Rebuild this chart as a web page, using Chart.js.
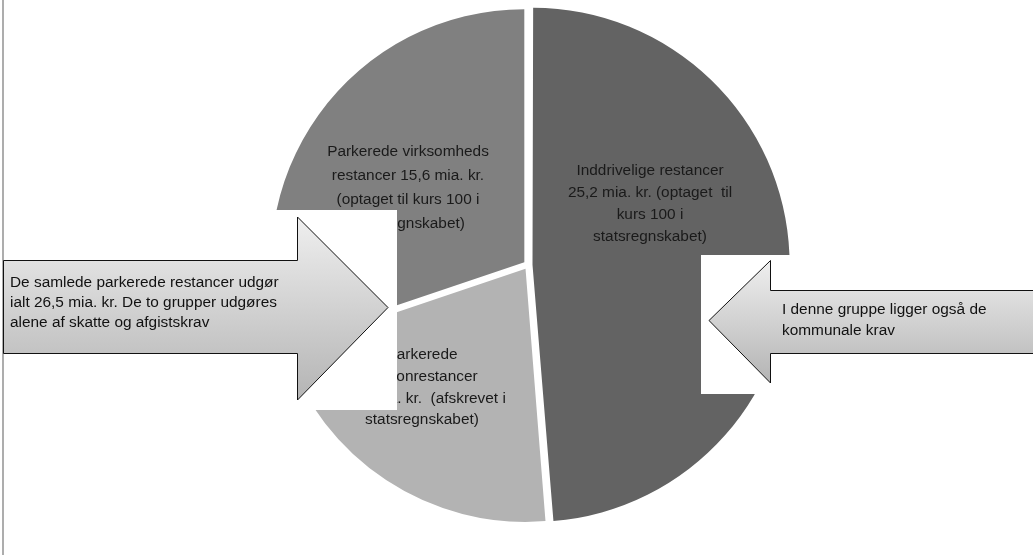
<!DOCTYPE html>
<html>
<head>
<meta charset="utf-8">
<script src="https://cdn.jsdelivr.net/npm/chart.js@4.4.1/dist/chart.umd.min.js"></script>
<style>
  html, body { margin: 0; padding: 0; background: #fff; overflow: hidden; }
  #wrap { position: absolute; left: 0; top: 0; width: 1033px; height: 555px; }
</style>
</head>
<body>
<div id="wrap"><canvas id="myChart"></canvas></div>
<script>
// data (mia. kr.)
const categories = ['Inddrivelige restancer', 'Parkerede personrestancer', 'Parkerede virksomheds restancer'];
const values = [25.2, 10.9, 15.6];
const colors = ['#636363', '#b3b3b3', '#808080'];

// text written inside each slice
const sliceText = [
  ['Inddrivelige restancer', '25,2 mia. kr. (optaget  til', 'kurs 100 i', 'statsregnskabet)'],
  ['Parkerede', 'personrestancer', '10,9 mia. kr.  (afskrevet i', 'statsregnskabet)'],
  ['Parkerede virksomheds', 'restancer 15,6 mia. kr.', '(optaget til kurs 100 i', 'statsregnskabet)']
];
const leftArrowText = ['De samlede parkerede restancer udgør', 'ialt 26,5 mia. kr. De to grupper udgøres', 'alene af skatte og afgistskrav'];
const rightArrowText = ['I denne gruppe ligger også de', 'kommunale krav'];

// a narrow sans looks closest; fall back to Liberation Sans if it is missing
function pickFont() {
  const c = document.createElement('canvas').getContext('2d');
  const s = 'Parkerede virksomheds';
  c.font = '100px monospace';
  const mono = c.measureText(s).width;
  c.font = '100px "Liberation Sans Narrow", monospace';
  const fam = c.measureText(s).width !== mono ? '"Liberation Sans Narrow"' : '"Liberation Sans"';
  c.font = '100px ' + fam + ', Arial, sans-serif';
  const size = 162 / c.measureText(s).width * 100;   // "Parkerede virksomheds" is ~162px wide
  return size.toFixed(1) + 'px ' + fam + ', Arial, sans-serif';
}
const FONT = pickFont();

const annotations = {
  id: 'annotations',
  afterDraw(chart) {
    const ctx = chart.ctx;
    const arcs = chart.getDatasetMeta(0).data;
    const cx = arcs[0].x, cy = arcs[0].y;

    // slice labels, placed relative to the pie centre
    const spots = [[122, -94, 22], [-106, 90, 21.7], [-120, -113, 24]];
    ctx.save();
    ctx.font = FONT;
    ctx.fillStyle = '#1a1a1a';
    ctx.textAlign = 'center';
    ctx.textBaseline = 'middle';
    sliceText.forEach((lines, i) => {
      const [dx, dy, lh] = spots[i];
      lines.forEach((t, j) => ctx.fillText(t, cx + dx, cy + dy + j * lh));
    });
    ctx.restore();

    // left border line
    ctx.save();
    ctx.fillStyle = '#adadad';
    ctx.fillRect(2, 0, 2, 555);

    // white boxes behind the arrows
    ctx.fillStyle = '#ffffff';
    ctx.fillRect(4, 210, 393, 200);
    ctx.fillRect(701, 255, 340, 139);

    const arrow = (pts, y0, y1) => {
      const g = ctx.createLinearGradient(0, y0, 0, y1);
      g.addColorStop(0, '#efefef');
      g.addColorStop(1, '#b4b4b4');
      ctx.beginPath();
      pts.forEach((p, k) => k ? ctx.lineTo(p[0], p[1]) : ctx.moveTo(p[0], p[1]));
      ctx.closePath();
      ctx.fillStyle = g;
      ctx.fill();
      ctx.lineWidth = 1;
      ctx.strokeStyle = '#111';
      ctx.stroke();
    };
    // left arrow, pointing right
    arrow([[3.5, 260.5], [297.5, 260.5], [297.5, 217], [388, 307.5], [297.5, 400], [297.5, 353.5], [3.5, 353.5]], 217, 400);
    // right arrow, pointing left
    arrow([[1040, 290.5], [770.5, 290.5], [770.5, 260.5], [709, 320.5], [770.5, 383], [770.5, 353.5], [1040, 353.5]], 260, 383);

    ctx.font = FONT;
    ctx.fillStyle = '#111';
    ctx.textAlign = 'left';
    ctx.textBaseline = 'middle';
    leftArrowText.forEach((t, j) => ctx.fillText(t, 10, 283 + j * 20));
    rightArrowText.forEach((t, j) => ctx.fillText(t, 782, 310 + j * 21));
    ctx.restore();
  }
};

new Chart(document.getElementById('myChart'), {
  type: 'pie',
  data: {
    labels: categories,
    datasets: [{
      data: values,
      backgroundColor: colors,
      borderWidth: 0,
      offset: 18
    }]
  },
  options: {
    responsive: true,
    maintainAspectRatio: false,
    animation: false,
    layout: { padding: { left: 266, right: 243, top: 3, bottom: 28 } },
    plugins: {
      legend: { display: false },
      tooltip: { enabled: false }
    }
  },
  plugins: [annotations]
});
</script>
</body>
</html>
